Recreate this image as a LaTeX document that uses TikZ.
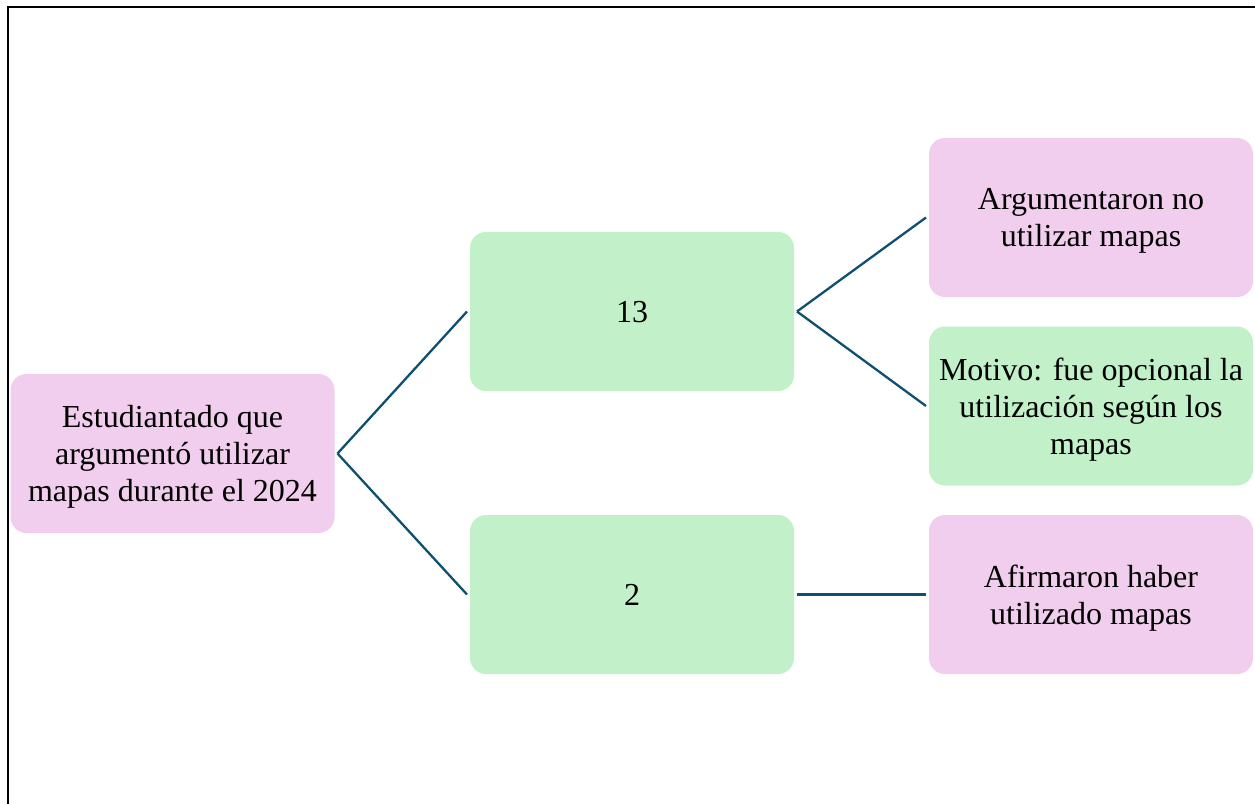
\documentclass[tikz,border=0pt]{standalone}
\usepackage{fontspec}
\setmainfont{Liberation Serif}
\usepackage{xcolor}
\usepackage{tikz}
\usetikzlibrary{shapes,calc}
\definecolor{cPink}{HTML}{F1CEEE}
\definecolor{cGreen}{HTML}{C2F0C8}
\definecolor{cLine}{HTML}{0F5070}
\tikzstyle{tsText} = [ 
    text=black, 
    font=\fontsize{32}{37}\selectfont
]
\tikzstyle{tsWraptext} = [ 
    tsText, 
    text centered, 
    align=center
]
\tikzstyle{tsBox} = [ 
    rectangle,
    rounded corners=16pt,
    tsWraptext,
    draw=none,
    inner sep=0pt,
    outer sep=3pt,
    text depth=0pt,
    minimum width=324pt,
    minimum height=159pt]
\tikzstyle{tsPink} = [tsBox, fill=cPink]
\tikzstyle{tsGreen} = [tsBox, fill=cGreen]
\tikzstyle{tsLink} = [
    draw=cLine,
    line width=2.3pt]

\begin{document}
\begin{tikzpicture}[x=1pt, y=-1pt]
        
        \useasboundingbox (0,0) rectangle (1255,804);
        \draw[line width=2pt] (8,804) -- (8,6.5) -- (1255,6.5);
        
        \node[tsPink] (start) at (172.5,453.5) {Estudiantado que\\argumentó utilizar\\mapas durante el 2024};
        
        \node[tsGreen] (thirteen) at (632,311.5) {13};
        \node[tsGreen] (two) at (632,594.5) {2};
        
        \node[tsPink] (nouse) at (1091,217.5) {Argumentaron no\\utilizar mapas};
        \node[tsGreen] (reason) at (1091,406) {Motivo: fue opcional la\\utilización según los\\mapas};
        \node[tsPink] (used) at (1091,594.5) {Afirmaron haber\\utilizado mapas};
        
     	\draw[tsLink] (start.east) -- (thirteen.west);
     	\draw[tsLink] (start.east) -- (two.west);
     	\draw[tsLink] (thirteen.east) -- (nouse.west);
     	\draw[tsLink] (thirteen.east) -- (reason.west);
     	\draw[tsLink] (two.east) -- (used.west);
   	 	
       \end{tikzpicture}
\end{document}
